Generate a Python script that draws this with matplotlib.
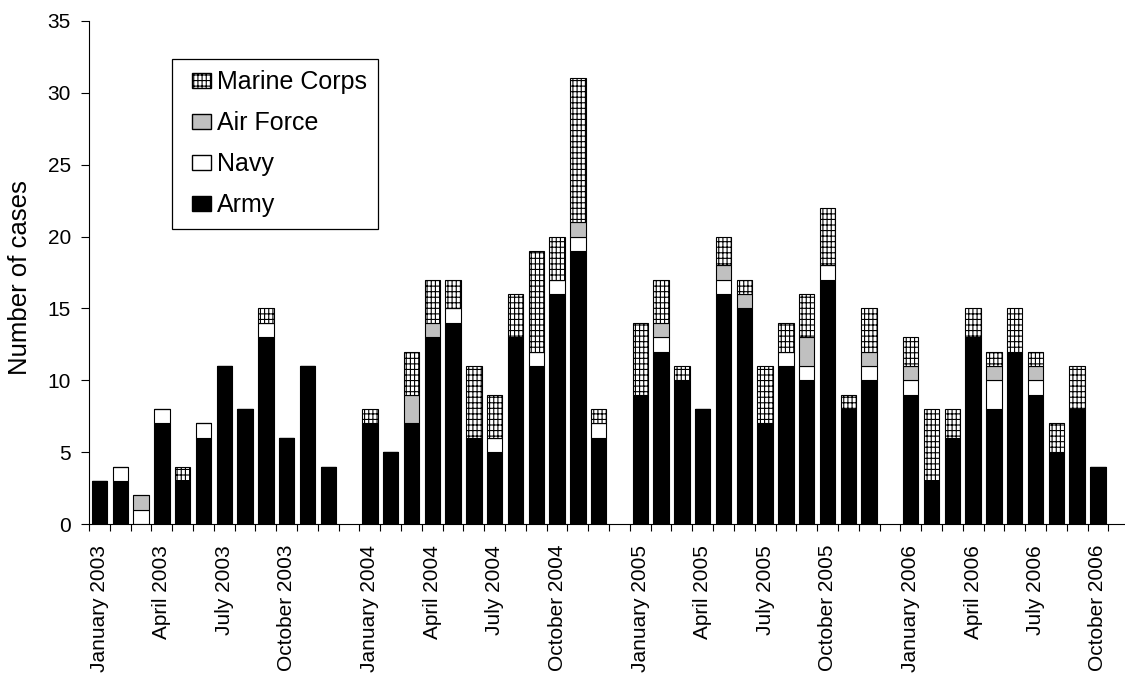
import numpy as np
import matplotlib
matplotlib.use('Agg')
import matplotlib.pyplot as plt
from matplotlib.patches import Patch, Rectangle
from matplotlib.legend_handler import HandlerPatch

plt.rcParams['font.family'] = ['Liberation Sans', 'DejaVu Sans']
plt.rcParams['hatch.linewidth'] = 0.8

years = [2003, 2004, 2005, 2006]
months_per_year = [12, 12, 12, 10]
month_names = ["January", "February", "March", "April", "May", "June", "July",
               "August", "September", "October", "November", "December"]

army = [3, 3, 0, 7, 3, 6, 11, 8, 13, 6, 11, 4,
        7, 5, 7, 13, 14, 6, 5, 13, 11, 16, 19, 6,
        9, 12, 10, 8, 16, 15, 7, 11, 10, 17, 8, 10,
        9, 3, 6, 13, 8, 12, 9, 5, 8, 4]
navy = [0, 1, 1, 1, 0, 1, 0, 0, 1, 0, 0, 0,
        0, 0, 0, 0, 1, 0, 1, 0, 1, 1, 1, 1,
        0, 1, 0, 0, 1, 0, 0, 1, 1, 1, 0, 1,
        1, 0, 0, 0, 2, 0, 1, 0, 0, 0]
air_force = [0, 0, 1, 0, 0, 0, 0, 0, 0, 0, 0, 0,
             0, 0, 2, 1, 0, 0, 0, 0, 0, 0, 1, 0,
             0, 1, 0, 0, 1, 1, 0, 0, 2, 0, 0, 1,
             1, 0, 0, 0, 1, 0, 1, 0, 0, 0]
marine = [0, 0, 0, 0, 1, 0, 0, 0, 1, 0, 0, 0,
          1, 0, 3, 3, 2, 5, 3, 3, 7, 3, 10, 1,
          5, 3, 1, 0, 2, 1, 4, 2, 3, 4, 1, 3,
          2, 5, 2, 2, 1, 3, 1, 2, 3, 0]

# positions: one empty slot after each year
pos = []
labels = []
slot = 0
for y, n in zip(years, months_per_year):
    for m in range(n):
        pos.append(slot + 0.5)
        labels.append(f"{month_names[m]} {y}")
        slot += 1
    slot += 1
pos = np.array(pos)
n_slots = slot - 1

army = np.array(army)
navy = np.array(navy)
air_force = np.array(air_force)
marine = np.array(marine)

fig = plt.figure(figsize=(11.25, 6.77), dpi=100)
ax = fig.add_axes([89/1125, 1 - 524/677, 1 - 89/1125, 503/677])

w = 0.74
kw = dict(width=w, edgecolor='black', linewidth=0.8)
ax.bar(pos, army, color='black', label='Army', **kw)
ax.bar(pos, navy, bottom=army, color='white', label='Navy', **kw)
ax.bar(pos, air_force, bottom=army + navy, color='#c0c0c0', label='Air Force', **kw)
ax.bar(pos, marine, bottom=army + navy + air_force, color='white',
       hatch='||||---', label='Marine Corps', **kw)

ax.set_xlim(0, 49.8)
ax.set_ylim(0, 35)
ax.set_yticks(np.arange(0, 36, 5))
ax.tick_params(axis='y', labelsize=15, length=6, width=0.8, pad=7, direction='out')

ax.set_xticks(np.arange(0, n_slots + 1))
ax.set_xticklabels([])
ax.tick_params(axis='x', which='major', length=5, width=0.8, direction='out')
keep = ("January", "April", "July", "October")
lab_pos = [p for p, l in zip(pos, labels) if l.split()[0] in keep]
lab_txt = [l for l in labels if l.split()[0] in keep]
ax.set_xticks(lab_pos, minor=True)
ax.set_xticklabels(lab_txt, minor=True, rotation=90, fontsize=15)
ax.tick_params(axis='x', which='minor', length=0, pad=15)

for s in ['top', 'right']:
    ax.spines[s].set_visible(False)
for s in ['left', 'bottom']:
    ax.spines[s].set_linewidth(0.8)

fig.text(20/1125, 1 - 278/677, "Number of cases", rotation=90, fontsize=18.5,
         ha='center', va='center')


def small_box(legend, orig_handle, xdescent, ydescent, width, height, fontsize):
    # square handle pushed to the right side of the handle box (sizes in points)
    bw = 13.5
    return Rectangle((-xdescent + width - bw, -ydescent), bw, height)


handles = [Patch(facecolor='white', edgecolor='black', hatch='||||---', label='Marine Corps'),
           Patch(facecolor='#c0c0c0', edgecolor='black', label='Air Force'),
           Patch(facecolor='white', edgecolor='black', label='Navy'),
           Patch(facecolor='black', edgecolor='black', label='Army')]
leg = ax.legend(handles=handles, loc='upper left', bbox_to_anchor=((172-89)/1036, (524-59)/503),
                borderaxespad=0, fontsize=18, fancybox=False, framealpha=1, edgecolor='black',
                handlelength=1.1, handleheight=0.6, handletextpad=0.25, labelspacing=0.68,
                borderpad=0.45, handler_map={Patch: HandlerPatch(patch_func=small_box)})
leg.get_frame().set_linewidth(0.9)

fig.savefig('out.png', dpi=100)
